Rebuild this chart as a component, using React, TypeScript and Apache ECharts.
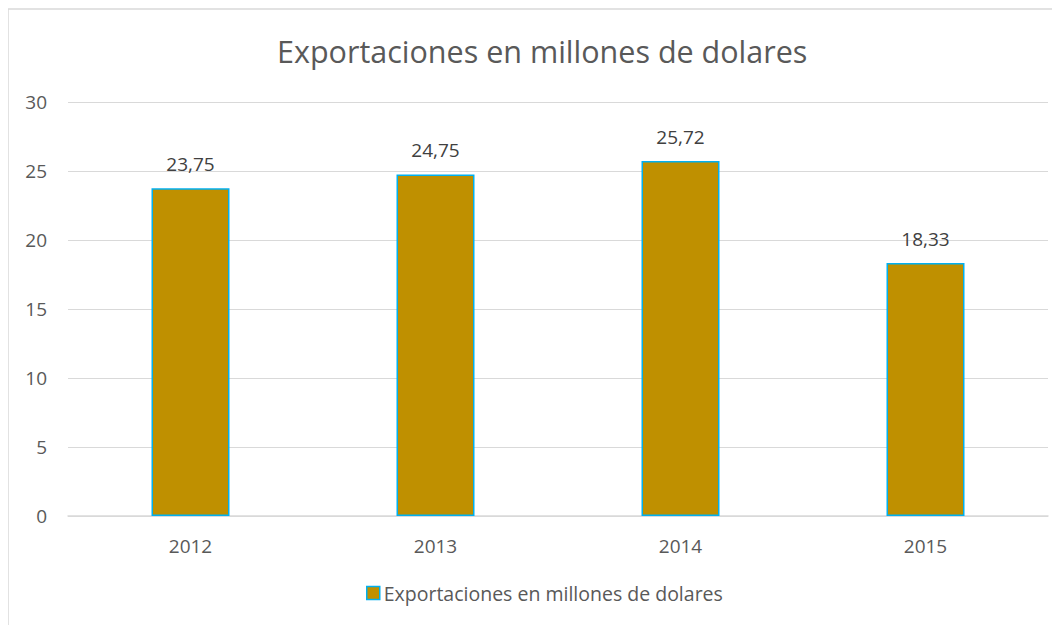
import React, { useEffect, useRef } from "react";
import * as echarts from "echarts";

const categories = ["2012", "2013", "2014", "2015"];
const values = [23.75, 24.75, 25.72, 18.33];
const seriesName = "Exportaciones en millones de dolares";
const titleText = "Exportaciones en millones de dolares";

const FONT = "'Open Sans', 'Noto Sans', sans-serif";

export default function App() {
  const ref = useRef<HTMLDivElement>(null);
  useEffect(() => {
    if (!ref.current) return;
    const chart = echarts.init(ref.current, null, { renderer: "svg" });
    chart.setOption({
      animation: false,
      backgroundColor: "#ffffff",
      textStyle: { fontFamily: FONT },
      title: {
        text: titleText,
        left: 264,
        top: 22,
        textStyle: { fontFamily: FONT, fontSize: 30.5, fontWeight: "normal", color: "#595959" },
      },
      grid: { left: 60, right: 4, top: 94, bottom: 109 },
      xAxis: {
        type: "category",
        data: categories,
        axisLine: { show: true, lineStyle: { color: "#d9d9d9", width: 1.5 } },
        axisTick: { show: false },
        axisLabel: { color: "#595959", fontSize: 19, margin: 20, fontFamily: FONT },
      },
      yAxis: {
        type: "value",
        min: 0,
        max: 30,
        interval: 5,
        axisLine: { show: false },
        axisTick: { show: false },
        axisLabel: { color: "#595959", fontSize: 19, margin: 21, fontFamily: FONT },
        splitLine: { lineStyle: { color: "#d9d9d9", width: 1 } },
      },
      legend: {
        bottom: 17,
        left: 353,
        itemWidth: 13,
        itemHeight: 13,
        itemGap: 4,
        icon: "rect",
        textStyle: { color: "#595959", fontSize: 19.5, fontFamily: FONT, padding: [0, 0, 0, -1] },
        data: [{ name: seriesName, itemStyle: { color: "#BF9000", borderColor: "#00B0F0", borderWidth: 1.5 } }],
      },
      series: [
        {
          name: seriesName,
          type: "bar",
          data: values,
          barWidth: 78,
          itemStyle: { color: "#BF9000", borderColor: "#00B0F0", borderWidth: 1.5 },
          label: {
            show: true,
            position: "top",
            distance: 15,
            color: "#404040",
            fontSize: 19,
            fontFamily: FONT,
            formatter: (p: any) => p.value.toFixed(2).replace(".", ","),
          },
        },
      ],
      graphic: [
        { type: "line", shape: { x1: -1, y1: 1, x2: 1044, y2: 1 }, style: { stroke: "#d9d9d9", lineWidth: 1.5 } },
        { type: "line", shape: { x1: 0, y1: 1, x2: 0, y2: 617 }, style: { stroke: "#d9d9d9", lineWidth: 1.5 } },
      ],
    });
    return () => chart.dispose();
  }, []);
  return <div ref={ref} style={{ width: 1044, height: 617 }} />;
}
